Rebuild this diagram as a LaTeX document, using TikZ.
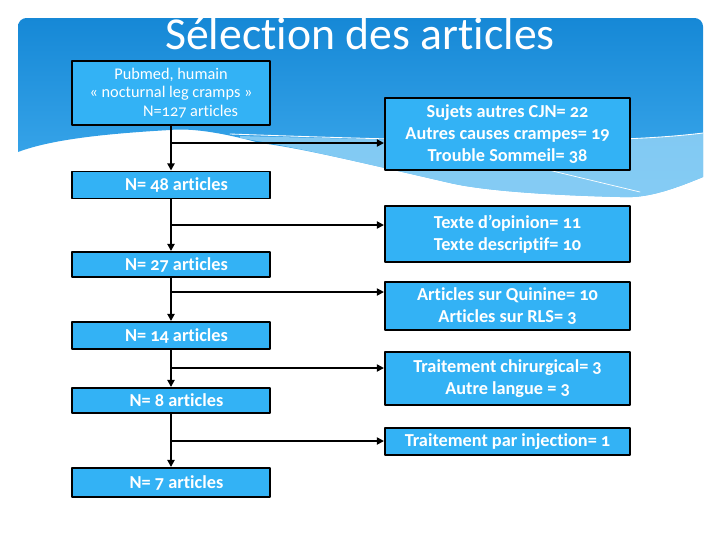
\documentclass[tikz,border=0pt]{standalone}
\usepackage{fontspec}
\setmainfont{Carlito}[Numbers=OldStyle, Ligatures=NoCommon]
\usetikzlibrary{arrows.meta}
\definecolor{boxblue}{RGB}{51,178,245}
\definecolor{bannertop}{RGB}{22,136,214}
\definecolor{bannerlow}{RGB}{64,172,238}
\definecolor{swoosh}{RGB}{150,212,246}

\begin{document}
\begin{tikzpicture}[x=0.025cm, y=-0.025cm, line cap=round, line join=round, >={Triangle[length=5pt,width=5pt]},
	box/.style={draw=black, line width=1.4pt, fill=boxblue, text=white, align=center, inner sep=0pt, font=\fontsize{13}{15.8}\selectfont\bfseries},
	leftbox/.style={box, minimum width=4.95cm},
	rightbox/.style={box, minimum width=6.125cm},
	flow/.style={->, line width=1.8pt},
	branch/.style={->, line width=1.2pt}]
			\useasboundingbox (0,0) rectangle (720,540);
			% banner
			\shade[top color=bannertop, bottom color=bannerlow] [rounded corners=6pt] (18,120) -- (18,18) -- (703,18) [sharp corners] -- (703,177) .. controls (660,195) and (640,198) .. (620,197) .. controls (540,195) and (480,190) .. (450,183) .. controls (350,160) and (300,148) .. (260,143) .. controls (220,132) and (190,128) .. (170,130) .. controls (100,134) and (50,140) .. (18,152) -- cycle;
			\fill[swoosh, fill opacity=0.8] (240,136) .. controls (400,140) and (600,146) .. (703,133) -- (703,177) .. controls (660,195) and (640,198) .. (620,197) .. controls (540,195) and (480,190) .. (450,183) .. controls (350,160) and (300,148) .. (240,138) -- cycle;
			\draw[white, line width=0.6pt] (230,134) .. controls (400,140) and (600,146) .. (703,133);
			\draw[white, line width=0.5pt] (540,168) -- (640,192);
			% title
			\node[text=white, font=\fontsize{32.5}{32.5}\selectfont] (title) at (360,34) {Sélection des articles};
			% main column
			\node[leftbox, minimum height=1.6cm, font=\fontsize{11.6}{13.4}\selectfont\mdseries] (pub) at (171,93) {Pubmed, humain\\« nocturnal leg cramps »\\\hspace*{2.4em}N=127 articles};
			\node[leftbox, minimum height=0.675cm] (n48) at (171,185) {\hspace*{0.6em}N= 48 articles};
			\node[leftbox, minimum height=0.625cm] (n27) at (171,264.5) {\hspace*{0.6em}N= 27 articles};
			\node[leftbox, minimum height=0.675cm] (n14) at (171,335.5) {\hspace*{0.6em}N= 14 articles};
			\node[leftbox, minimum height=0.625cm] (n8) at (171,400.5) {\hspace*{0.6em}N= 8 articles};
			\node[leftbox, minimum height=0.725cm] (n7) at (171,482.5) {\hspace*{0.6em}N= 7 articles};
			% exclusions
			\node[rightbox, minimum height=1.8cm] (ex1) at (507.5,134) {Sujets autres CJN= 22\\Autres causes crampes= 19\\Trouble Sommeil= 38};
			\node[rightbox, minimum height=1.4cm] (ex2) at (507.5,234) {Texte d’opinion= 11\\Texte descriptif= 10};
			\node[rightbox, minimum height=1.2cm] (ex3) at (507.5,306) {Articles sur Quinine= 10\\Articles sur RLS= 3};
			\node[rightbox, minimum height=1.325cm] (ex4) at (507.5,378.5) {Traitement chirurgical= 3\\Autre langue = 3};
			\node[rightbox, minimum height=0.675cm] (ex5) at (507.5,441.5) {Traitement par injection= 1};
			% branch points
			\coordinate (b1) at (171,143);
			\coordinate (b2) at (171,225);
			\coordinate (b3) at (171,292);
			\coordinate (b4) at (171,368);
			\coordinate (b5) at (171,441);
			% arrows
			\draw[flow] (pub) -- (n48);
			\draw[flow] (n48) -- (n27);
			\draw[flow] (n27) -- (n14);
			\draw[flow] (n14) -- (n8);
			\draw[flow] (n8) -- (n7);
			\draw[branch] (b1) -- (b1 -| ex1.west);
			\draw[branch] (b2) -- (b2 -| ex2.west);
			\draw[branch] (b3) -- (b3 -| ex3.west);
			\draw[branch] (b4) -- (b4 -| ex4.west);
			\draw[branch] (b5) -- (b5 -| ex5.west);
\end{tikzpicture}
\end{document}
